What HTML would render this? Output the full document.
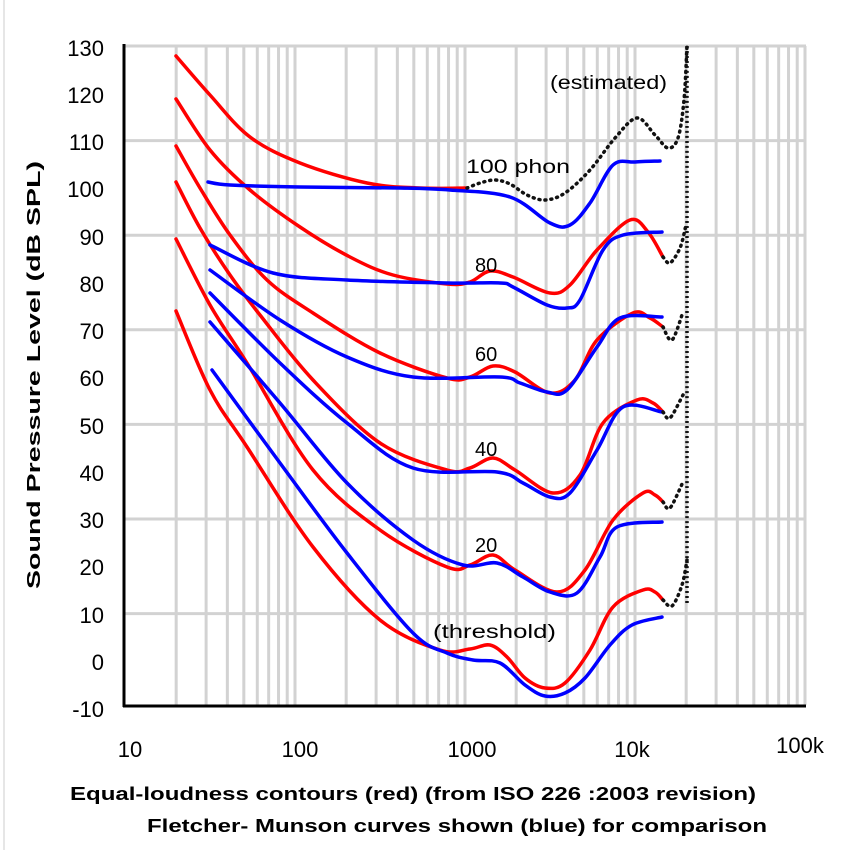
<!DOCTYPE html>
<html><head><meta charset="utf-8"><style>
html,body{margin:0;padding:0;background:#fff;}
svg{display:block;}
text{font-family:"Liberation Sans",sans-serif;fill:#000;}
</style></head><body>
<svg id="s" width="850" height="850" viewBox="0 0 850 850" xmlns="http://www.w3.org/2000/svg">
<rect width="850" height="850" fill="#fff"/>
<line x1="4" y1="0" x2="4" y2="850" stroke="#e6e6e6" stroke-width="2"/>
<g id="grid" stroke="#d2d2d2" stroke-width="3"></g>
<line x1="124" y1="44" x2="124" y2="707" stroke="#000" stroke-width="3"/>
<line x1="123" y1="706" x2="806" y2="706" stroke="#000" stroke-width="3"/>
<g id="curves" fill="none" stroke-width="3.5" stroke-linecap="round" stroke-linejoin="round"></g>
<g font-size="22" text-anchor="end">
<text x="104" y="56">130</text><text x="104" y="103">120</text><text x="104" y="150">110</text>
<text x="104" y="197">100</text><text x="104" y="245">90</text><text x="104" y="292">80</text>
<text x="104" y="339">70</text><text x="104" y="386">60</text><text x="104" y="434">50</text>
<text x="104" y="481">40</text><text x="104" y="528">30</text><text x="104" y="575">20</text>
<text x="104" y="623">10</text><text x="104" y="670">0</text><text x="104" y="717">-10</text>
</g>
<g font-size="22" text-anchor="middle">
<text x="130" y="757">10</text><text x="300" y="757">100</text><text x="472" y="757">1000</text>
<text x="632" y="757">10k</text><text x="800" y="753">100k</text>
</g>
<text transform="translate(40,375) rotate(-90)" font-size="18" font-weight="bold" text-anchor="middle" textLength="428" lengthAdjust="spacingAndGlyphs">Sound Pressure Level (dB SPL)</text>
<text x="70" y="800" font-size="18" font-weight="bold" textLength="686" lengthAdjust="spacingAndGlyphs">Equal-loudness contours (red) (from ISO 226 :2003 revision)</text>
<text x="147" y="832" font-size="18" font-weight="bold" textLength="620" lengthAdjust="spacingAndGlyphs">Fletcher- Munson curves shown (blue) for comparison</text>
<g font-size="19">
<text x="550" y="89" textLength="117" lengthAdjust="spacingAndGlyphs">(estimated)</text>
<text x="466" y="173" textLength="104" lengthAdjust="spacingAndGlyphs">100 phon</text>
<text x="475" y="272" font-size="20">80</text>
<text x="475" y="361" font-size="20">60</text>
<text x="475" y="456" font-size="20">40</text>
<text x="475" y="552" font-size="20">20</text>
<text x="433" y="638" textLength="123" lengthAdjust="spacingAndGlyphs">(threshold)</text>
</g>
</svg>
<script>
var NS="http://www.w3.org/2000/svg";
var g=document.getElementById("grid");
function X(f){return 125+170*Math.log10(f/10);}
for(var d=10;d<100000;d*=10){for(var m=1;m<=10;m++){var f=d*m;if(f<20)continue;var x=X(f);
 var l=document.createElementNS(NS,"line");l.setAttribute("x1",x);l.setAttribute("x2",x);l.setAttribute("y1",46);l.setAttribute("y2",705);g.appendChild(l);}}
[130,110,90,70,50,30,10].forEach(function(db){var y=46+(130-db)*4.73;var l=document.createElementNS(NS,"line");l.setAttribute("x1",124);l.setAttribute("x2",806);l.setAttribute("y1",y);l.setAttribute("y2",y);g.appendChild(l);});
function cr(p){var s="M"+p[0][0]+","+p[0][1];for(var i=0;i<p.length-1;i++){var p0=p[i-1]||p[i],p1=p[i],p2=p[i+1],p3=p[i+2]||p2;
 s+=" C"+(p1[0]+(p2[0]-p0[0])/6).toFixed(1)+","+(p1[1]+(p2[1]-p0[1])/6).toFixed(1)+" "+(p2[0]-(p3[0]-p1[0])/6).toFixed(1)+","+(p2[1]-(p3[1]-p1[1])/6).toFixed(1)+" "+p2[0]+","+p2[1];}return s;}
var C=document.getElementById("curves");
function add(p,col,dash,w,cap){var e=document.createElementNS(NS,"path");e.setAttribute("d",cr(p));e.setAttribute("stroke",col);if(dash){e.setAttribute("stroke-dasharray",dash);e.setAttribute("stroke-linecap",cap||"round");}if(w)e.setAttribute("stroke-width",w);C.appendChild(e);}
var blue=[
[[208,182],[230,185],[300,187],[400,188],[450,190],[510,197],[550,223],[570,225],[590,203],[613,165],[635,162],[660,161]],
[[210,245],[273,273],[347,280],[447,283],[500,283],[513,287],[547,305],[567,308],[580,300],[603,250],[623,235],[662,232]],
[[210,270],[280,320],[347,357],[413,377],[500,377],[520,383],[547,392],[567,390],[597,347],[620,318],[662,317]],
[[210,293],[280,363],[347,423],[413,468],[497,472],[523,483],[550,497],[570,493],[597,450],[623,407],[662,412]],
[[210,322],[280,403],[347,483],[413,540],[463,565],[497,563],[523,577],[550,592],[577,593],[600,557],[617,527],[662,522]],
[[212,370],[280,463],[347,553],[413,633],[447,653],[473,660],[500,663],[525,685],[545,696],[565,693],[585,678],[610,645],[632,625],[662,617]]];
var red=[
[[176,56],[210,95],[250,137],[300,163],[367,183],[420,188],[467,188]],
[[176,99],[210,150],[250,190],[300,227],[350,257],[393,275],[447,284],[470,282],[490,271],[513,277],[550,293],[570,285],[597,250],[630,220],[648,232],[663,257]],
[[176,146],[200,188],[230,235],[267,280],[313,313],[380,353],[447,378],[470,377],[493,366],[515,372],[550,393],[575,380],[597,340],[633,313],[650,318],[663,327]],
[[176,182],[200,228],[230,275],[260,315],[313,380],[380,443],[447,470],[470,468],[493,458],[515,470],[553,493],[580,475],[603,423],[637,400],[653,403],[663,412]],
[[176,239],[210,305],[247,363],[313,470],[380,530],[447,567],[470,565],[493,555],[515,570],[557,592],[585,570],[613,520],[643,493],[655,495],[663,502]],
[[176,311],[210,390],[247,447],[313,547],[380,620],[440,650],[470,649],[490,645],[507,657],[525,678],[545,688],[565,683],[590,650],[613,607],[643,590],[655,592],[663,600]]];
red.forEach(function(p){add(p,"#ff0000");});
blue.forEach(function(p){add(p,"#0000ff");});
var dk="#111";
add([[467,188],[480,183],[495,180],[510,184],[527,195],[545,200],[565,193],[590,170],[615,138],[637,118],[655,135],[668,148],[678,138],[684,100],[687,46]],dk,"1,5",3.5);
add([[663,257],[670,263],[680,248],[686,225]],dk,"1,5",3.5);
add([[663,327],[672,340],[683,312]],dk,"1,5",3.5);
add([[663,412],[670,418],[683,395]],dk,"1,5",3.5);
add([[663,502],[670,508],[683,482]],dk,"1,5",3.5);
add([[663,600],[672,606],[682,585],[687,560]],dk,"1,5",3.5);
add([[687,46],[687,605]],dk,"2,3",3.5,"butt");
</script>
</body></html>
